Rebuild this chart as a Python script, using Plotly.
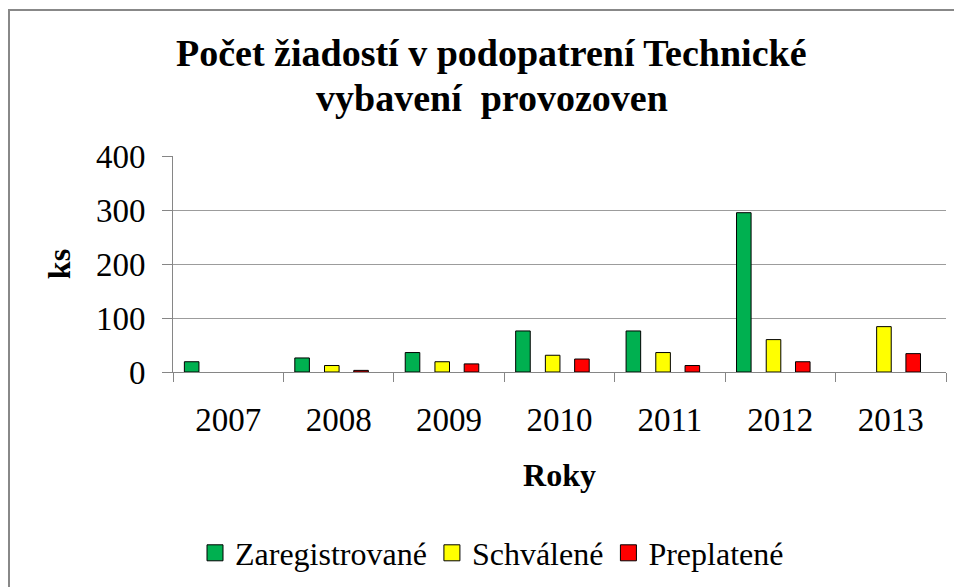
import plotly.graph_objects as go

years = ["2007", "2008", "2009", "2010", "2011", "2012", "2013"]
zaregistrovane = [19, 26, 36, 76, 76, 295, None]
schvalene = [None, 12, 19, 31, 36, 60, 84]
preplatene = [None, 3, 15, 24, 12, 19, 34]

series_names = ["Zaregistrované", "Schválené", "Preplatené"]
colors = ["#00B050", "#FFFF00", "#FF0000"]
offsets = [-0.397, -0.128, 0.137]
bar_w = 0.132

FONT = "Liberation Serif"

W, H = 954, 579
L, R, T, B = 165, 16, 148, 215
PW, PH = W - L - R, H - T - B


def px2paper(x, y):
    return (x - L) / PW, (H - B - y) / PH


fig = go.Figure()
for name, vals, col, off in zip(series_names, [zaregistrovane, schvalene, preplatene], colors, offsets):
    fig.add_trace(go.Bar(
        x=years, y=vals, name=name, legendgroup=name, showlegend=False,
        marker=dict(color=col, line=dict(color="#000000", width=1)),
        width=bar_w, offset=off,
    ))
# legend entries with larger square swatches
for name, col in zip(series_names, colors):
    fig.add_trace(go.Scatter(
        x=[None], y=[None], mode="markers", name=name, legendgroup=name,
        marker=dict(symbol="square", size=18, color=col, line=dict(color="#000000", width=1)),
        showlegend=True, hoverinfo="skip",
    ))

lx, ly = px2paper(484, 545)
t1x, t1y = px2paper(483, 45)
t2x, t2y = px2paper(484, 90)

fig.update_layout(
    width=W, height=H,
    margin=dict(l=L, r=R, t=T, b=B, autoexpand=False),
    paper_bgcolor="white", plot_bgcolor="white",
    barmode="overlay",
    font=dict(family=FONT, size=33, color="#000000"),
    showlegend=True,
    legend=dict(
        orientation="h", x=lx, xanchor="center",
        y=ly, yanchor="middle",
        font=dict(family=FONT, size=32, color="#000000"),
        traceorder="normal",
        bgcolor="rgba(0,0,0,0)",
    ),
    xaxis=dict(
        type="category",
        showline=True, linecolor="#868686", linewidth=1,
        ticks="outside", tickson="boundaries", ticklen=9, tickcolor="#868686",
        tickfont=dict(family=FONT, size=33, color="#000000"),
        ticklabelstandoff=18,
        title=dict(text="<b>Roky</b>", font=dict(family=FONT, size=32, color="#000000"), standoff=27),
        showgrid=False,
    ),
    yaxis=dict(
        range=[0, 400], dtick=100,
        showline=True, linecolor="#868686", linewidth=1,
        ticks="outside", ticklen=10, tickcolor="#868686",
        showgrid=True, gridcolor="#9c9c9c", gridwidth=1,
        zeroline=False,
        tickfont=dict(family=FONT, size=33, color="#000000"),
        ticklabelstandoff=10,
        title=dict(text="<b>ks</b>", font=dict(family=FONT, size=32, color="#000000"), standoff=15),
    ),
    annotations=[
        dict(text="<b>Počet žiadostí v podopatrení Technické</b>", x=t1x, y=t1y,
             xref="paper", yref="paper", showarrow=False, xanchor="center", yanchor="middle",
             font=dict(family=FONT, size=38, color="#000000")),
        dict(text="<b>vybavení\u00a0 provozoven</b>", x=t2x, y=t2y,
             xref="paper", yref="paper", showarrow=False, xanchor="center", yanchor="middle",
             font=dict(family=FONT, size=38, color="#000000")),
    ],
)

bx0, by0 = px2paper(1, 2)
bx1, by1 = px2paper(W + 5, H + 5)
fig.add_shape(type="path", xref="paper", yref="paper",
              path=f"M {bx0},{by1} L {bx0},{by0} L {bx1},{by0}",
              line=dict(color="#888888", width=2))

fig.write_html("out.html")
